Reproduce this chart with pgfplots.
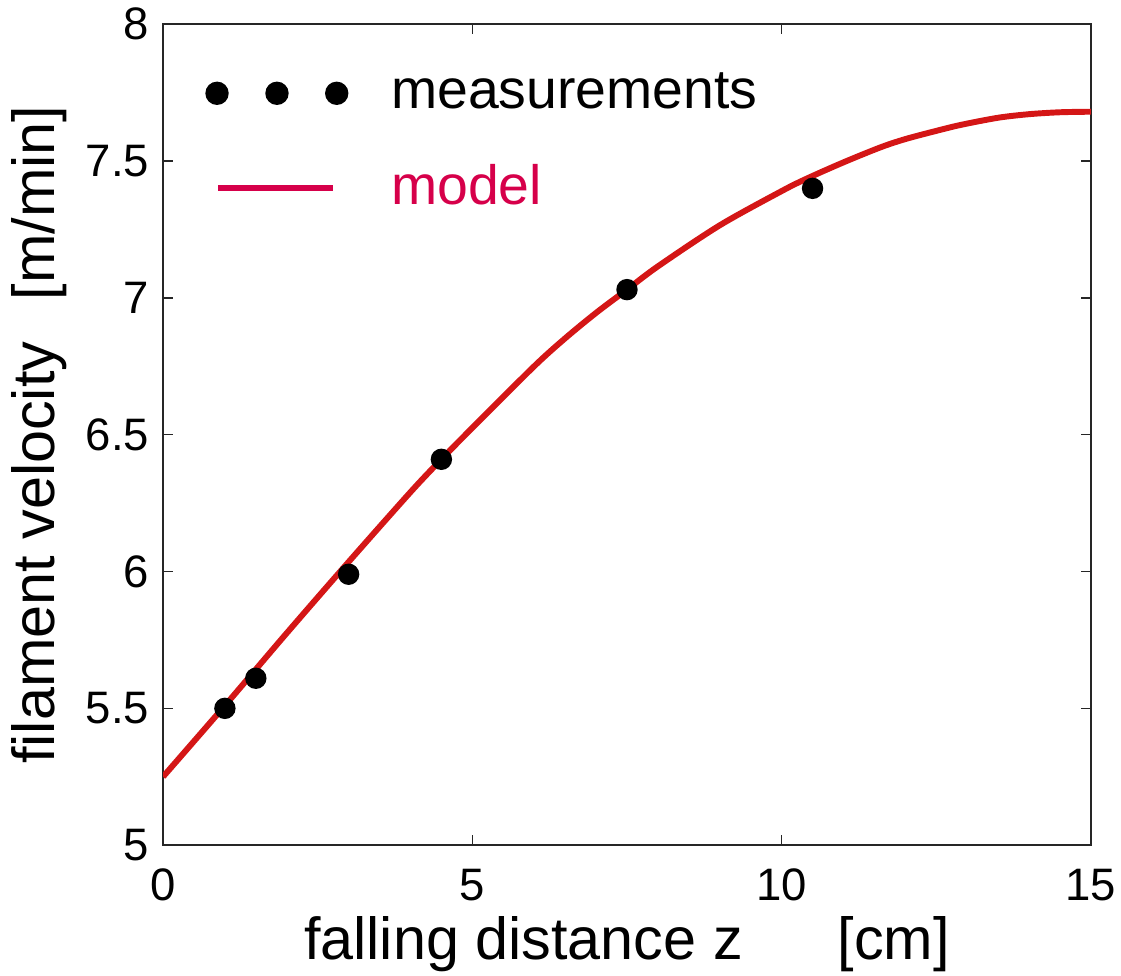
\documentclass[border=0pt]{standalone}
\usepackage{fontspec}
\setmainfont{Liberation Sans}
\usepackage{pgfplots}
\pgfplotsset{compat=1.18}
\definecolor{curvered}{RGB}{212,22,22}
\definecolor{modelred}{RGB}{214,0,74}
\begin{document}
\begin{tikzpicture}
\begin{axis}[
  scale only axis,
  width=234.5pt, height=207.5pt,
  xmin=0, xmax=15, ymin=5, ymax=8,
  xtick={0,5,10,15},
  ytick={5,5.5,6,6.5,7,7.5,8},
  tick align=inside,
  major tick length=2.5pt,
  axis line style={line width=0.5pt, black!85},
  every tick/.style={black!85, line width=0.4pt},
  /pgf/number format/assume math mode=true,
  tick label style={font=\fontsize{11.5}{13}\selectfont},
  xticklabel style={yshift=-2.5pt},
  label style={font=\fontsize{15}{18}\selectfont},
  xlabel={falling distance z\hspace{1.6em}[cm]},
  ylabel={filament velocity\hspace{0.7em}[m/min]},
  xlabel style={yshift=3pt},
  ylabel style={yshift=-2pt},
  legend style={at={(0,1)}, anchor=north west, xshift=7.5pt, yshift=-10pt,
    draw=none, fill=none, font=\fontsize{14}{16}\selectfont,
    row sep=12.8pt, column sep=0pt,
    nodes={inner sep=0pt}},
  legend cell align=left,
]
\addplot[only marks, mark=*, mark size=2.5pt, black,
  legend image code/.code={
    \fill[black] (2.75pt,0pt) circle (2.75pt);
    \fill[black] (17.9pt,0pt) circle (2.75pt);
    \fill[black] (33pt,0pt) circle (2.75pt);
    \path (46pt,0pt);
  }] coordinates {
  (1,5.50) (1.5,5.61) (3,5.99) (4.5,6.41) (7.5,7.03) (10.5,7.40)
};
\addlegendentry{measurements}
\addplot[curvered, line width=1.5pt, smooth,
  legend image code/.code={
    \draw[modelred, line width=1.6pt] (3pt,0pt) -- (32pt,0pt);
    \path (46pt,0pt);
  }] coordinates {
  (0,5.25) (1,5.51) (2,5.775) (3,6.035) (4,6.29) (4.5,6.41) (5,6.525)
  (6,6.75) (6.5,6.852) (7,6.945) (7.5,7.03) (8,7.115) (9,7.265) (10,7.39)
  (10.4,7.435) (11,7.495) (11.6,7.55) (12,7.58) (12.5,7.61) (12.9,7.632)
  (13.5,7.658) (14,7.671) (14.5,7.678) (15,7.68)
};
\addlegendentry{\textcolor{modelred}{model}}
\end{axis}
\pgfresetboundingbox
\path ([shift={(-41.2pt,-32.9pt)}]current axis.south west)
  rectangle ([shift={(7.6pt,6.1pt)}]current axis.north east);
\end{tikzpicture}
\end{document}
